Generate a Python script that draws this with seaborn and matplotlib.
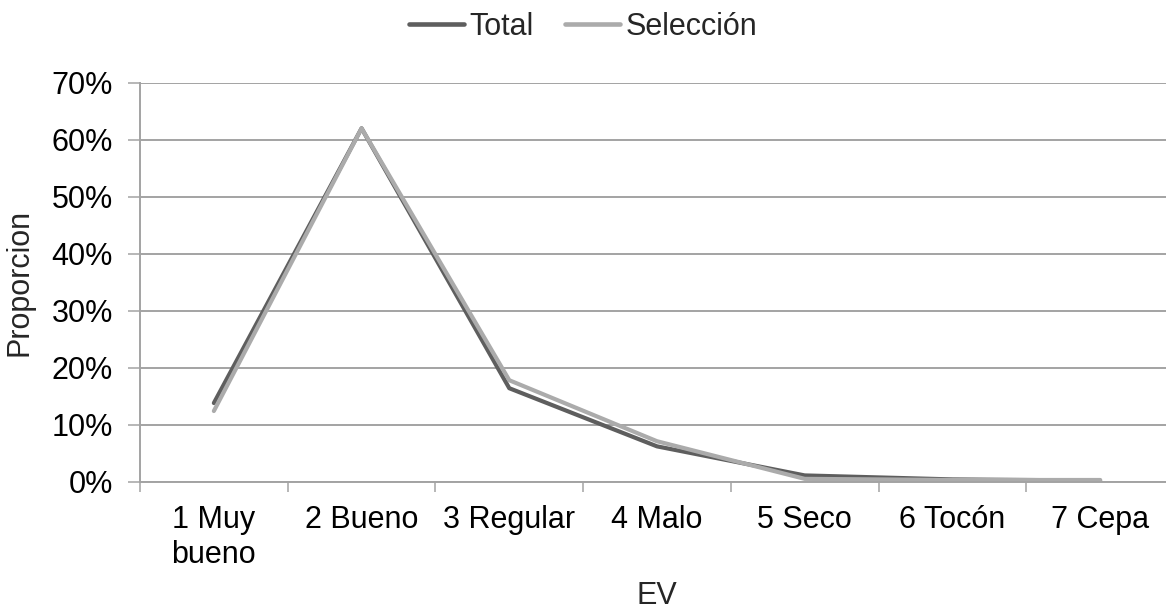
import matplotlib
matplotlib.use("Agg")
import matplotlib.pyplot as plt
import seaborn as sns
import pandas as pd
from matplotlib.ticker import FixedLocator, FuncFormatter

# Estado vegetativo (EV) categories and proportions (%)
categories = ["1 Muy\nbueno", "2 Bueno", "3 Regular", "4 Malo", "5 Seco", "6 Tocón", "7 Cepa"]
total = [13.8, 62.0, 16.4, 6.2, 1.1, 0.4, 0.2]
seleccion = [12.4, 62.0, 17.8, 7.1, 0.5, 0.3, 0.3]
series_names = ["Total", "Selección"]
y_ticks = [0, 10, 20, 30, 40, 50, 60, 70]

df = pd.DataFrame({
    "EV": categories * 2,
    "Proporcion": total + seleccion,
    "Serie": [series_names[0]] * len(categories) + [series_names[1]] * len(categories),
})

sns.set_theme(style="white")
plt.rcParams["font.family"] = ["Liberation Sans", "DejaVu Sans"]

W, H = 1166, 612
fig = plt.figure(figsize=(W / 100, H / 100), dpi=100)
left_px, right_px, top_px, bottom_px = 140, 1174, 82.7, 481.7
ax = fig.add_axes([left_px / W, (H - bottom_px) / H,
                   (right_px - left_px) / W, (bottom_px - top_px) / H])

sns.lineplot(data=df, x="EV", y="Proporcion", hue="Serie", hue_order=series_names,
             palette={"Total": "#5e5e5e", "Selección": "#ababab"},
             linewidth=3.0, sort=False, ax=ax, legend=True)

fs = 22
grid_c = "#a3a3a3"
ax.set_xlim(-0.5, len(categories) - 0.5)
ax.set_ylim(0, 70)
ax.set_yticks(y_ticks)
ax.yaxis.set_major_formatter(FuncFormatter(lambda v, p: f"{v:.0f}%"))
ax.yaxis.grid(True, color=grid_c, linewidth=1.4)
ax.set_axisbelow(True)

# category labels at centres, tick marks on the category boundaries
ax.set_xticks(range(len(categories)))
ax.set_xticklabels(categories)
ax.xaxis.set_minor_locator(FixedLocator([i - 0.5 for i in range(len(categories) + 1)]))
ax.tick_params(axis="x", which="major", length=0, pad=17, labelsize=fs, colors="black")
ax.tick_params(axis="x", which="minor", bottom=True, length=7.5, width=1.1, color=grid_c)
ax.tick_params(axis="y", which="major", left=True, length=8.5, width=1.1, color=grid_c,
               pad=11, labelsize=fs, labelcolor="black")

for side in ["top", "right"]:
    ax.spines[side].set_visible(False)
for side in ["left", "bottom"]:
    ax.spines[side].set_color(grid_c)
    ax.spines[side].set_linewidth(1.4)

ax.set_xlabel("EV", fontsize=fs, labelpad=8)
ax.set_ylabel("Proporcion", fontsize=fs, labelpad=12)

handles, labels = ax.get_legend_handles_labels()
for h in handles:
    h.set_linewidth(3.3)
ax.get_legend().remove()
fig.legend(handles, labels, loc="center", bbox_to_anchor=(0.5, (H - 27) / H),
           ncol=2, frameon=False, fontsize=fs, handlelength=1.8, handletextpad=0.2,
           columnspacing=1.0)

fig.savefig("out.png", dpi=100)
